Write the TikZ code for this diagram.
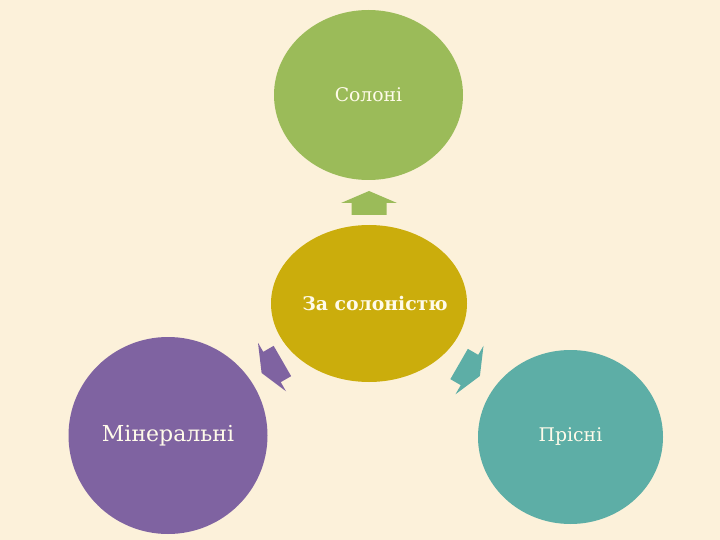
\documentclass[tikz,border=0pt]{standalone}
\usepackage{fontspec}
\setmainfont{DejaVu Serif}
\usetikzlibrary{shapes.geometric}
\definecolor{bgc}{HTML}{FCF1DA}
\definecolor{cgreen}{HTML}{9BBB59}
\definecolor{cgold}{HTML}{CBAD0C}
\definecolor{cpurple}{HTML}{7F63A1}
\definecolor{cteal}{HTML}{5DAEA6}
\definecolor{ctext}{HTML}{FFFBEA}
\tikzset{
  blob/.style={ellipse, inner sep=0pt, text=ctext, draw=none},
}
\newcommand\blockarr[3]{%
  \fill[#3, shift={#1}, rotate=#2]
    (0,-12) -- (28,0) -- (17.5,0) -- (17.5,12) -- (-17.5,12) -- (-17.5,0) -- (-28,0) -- cycle;}
\begin{document}
\begin{tikzpicture}[x=1pt,y=-1pt]
\fill[bgc] (0,0) rectangle (720,540);
\useasboundingbox (0,0) rectangle (720,540);

\node[blob, fill=cgreen, minimum width=189pt, minimum height=170pt, font=\fontsize{18.8}{20}\selectfont] (sol) at (368.5,95) {Солоні};
\node[blob, fill=cgold, minimum width=196pt, minimum height=157pt] (za) at (369,303.5) {};
\node[text=ctext, inner sep=0pt, font=\fontsize{18.8}{20}\selectfont\bfseries] (zatext) at (375,303.5) {За солоністю};
\node[blob, fill=cpurple, minimum width=199pt, minimum height=197pt, font=\fontsize{22}{24}\selectfont] (min) at (168,435.5) {Мінеральні};
\node[blob, fill=cteal, minimum width=185pt, minimum height=174pt, font=\fontsize{18.8}{20}\selectfont] (pri) at (570.5,437) {Прісні};

\blockarr{(369,203)}{0}{cgreen}
\blockarr{(272,367)}{120}{cpurple}
\blockarr{(469.5,370)}{-120}{cteal}
\end{tikzpicture}
\end{document}
